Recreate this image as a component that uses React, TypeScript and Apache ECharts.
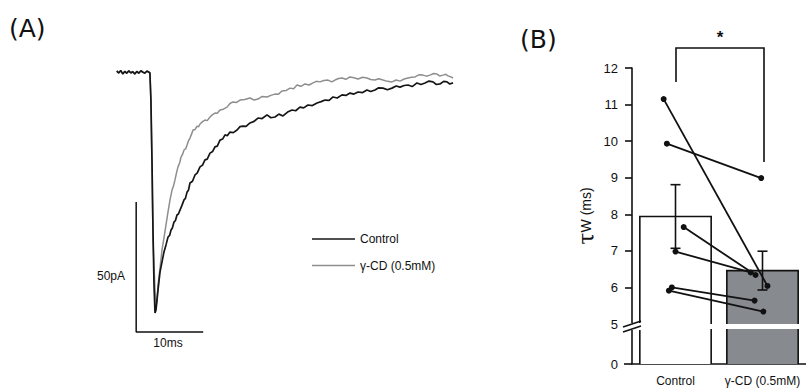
import React, { useEffect, useRef } from "react";
import * as echarts from "echarts";

// ---------- Panel A: EPSC traces (time in ms, current in pA) ----------
const controlTrace: number[][] = [
  [2.5, 0.4], [2.8, -0.4], [3.1, 0.6], [3.4, -0.8], [3.7, 0.2], [4.0, -0.5], [4.3, 0.5], [4.6, -0.4], [4.9, 0.1], [5.2, -0.8],
  [5.5, 0.2], [5.8, -0.5], [6.1, 0.5], [6.4, -0.1], [6.7, -0.5], [7.0, 0.4], [7.3, -0.1], [7.45, -0.4],
  [7.6, -10.8], [7.76, -33.8], [7.91, -60.8], [8.06, -81.9], [8.21, -92.7], [8.36, -91.5], [8.66, -83.8], [8.96, -76.9],
  [9.25, -73.1], [9.55, -69.2], [9.85, -66.5], [10.15, -63.5], [10.4, -62.8], [10.6, -60.8], [10.8, -60.0], [11.04, -57.7],
  [11.25, -57.2], [11.49, -55.0], [11.7, -54.6], [11.94, -53.1], [12.2, -51.5], [12.54, -49.2], [12.75, -48.6], [12.99, -46.2],
  [13.2, -45.5], [13.43, -42.7], [13.8, -42.0], [14.18, -39.6], [14.5, -38.9], [14.93, -36.5], [15.3, -35.8], [15.67, -33.8],
  [16.0, -33.5], [16.42, -31.2], [16.8, -30.6], [17.16, -28.8], [17.5, -28.5], [17.91, -26.2], [18.3, -25.8], [18.66, -24.2],
  [19.0, -24.5], [19.4, -23.1], [19.9, -23.3], [20.45, -22.3], [20.9, -21.0], [21.34, -20.8], [21.8, -20.9], [22.39, -19.6],
  [23.0, -19.0], [23.58, -17.7], [24.2, -17.9], [24.93, -16.5], [25.5, -17.6], [26.12, -17.3], [26.7, -16.2], [27.31, -16.9],
  [28.0, -15.4], [28.66, -14.6], [29.2, -14.9], [29.85, -13.5], [30.4, -13.8], [31.04, -12.7], [31.7, -12.9], [32.39, -11.9],
  [33.0, -11.4], [33.58, -10.8], [34.2, -10.9], [34.78, -9.6], [35.4, -10.0], [36.12, -8.8], [36.7, -9.0], [37.31, -8.1],
  [37.9, -8.5], [38.51, -7.7], [39.2, -7.9], [39.85, -6.9], [40.4, -7.5], [41.04, -6.9], [41.6, -6.1], [42.24, -6.2],
  [42.9, -6.8], [43.58, -6.2], [44.2, -5.4], [44.78, -5.8], [45.4, -5.2], [45.97, -5.0], [46.6, -5.6], [47.31, -4.2],
  [47.9, -4.8], [48.51, -4.2], [49.1, -3.5], [49.7, -3.8], [50.2, -4.8], [50.75, -4.6], [51.3, -3.6], [51.79, -3.8],
  [52.2, -4.6], [52.69, -4.2],
];

const cdTrace: number[][] = [
  [2.5, 0.2], [2.8, -0.2], [3.1, 0.4], [3.4, -0.6], [3.7, 0.3], [4.0, -0.3], [4.3, 0.4], [4.6, -0.2], [4.9, 0.2], [5.2, -0.6],
  [5.5, 0.3], [5.8, -0.3], [6.1, 0.4], [6.4, 0.0], [6.7, -0.3], [7.0, 0.3], [7.3, 0.0], [7.45, -0.3],
  [7.6, -10.8], [7.76, -37.7], [7.91, -64.6], [8.21, -83.8], [8.36, -90.0], [8.51, -87.7], [8.66, -81.9], [8.96, -75.4],
  [9.25, -68.5], [9.55, -63.8], [9.85, -58.8], [10.15, -53.8], [10.45, -49.2], [10.75, -45.4], [11.0, -43.6], [11.19, -41.5],
  [11.4, -39.0], [11.64, -36.5], [11.9, -34.9], [12.09, -32.7], [12.3, -31.8], [12.54, -30.0], [12.8, -29.5], [12.99, -28.1],
  [13.2, -26.5], [13.43, -25.4], [13.65, -24.0], [13.88, -22.3], [14.2, -22.1], [14.48, -20.8], [14.7, -21.1], [14.93, -20.0],
  [15.3, -19.1], [15.67, -18.5], [16.0, -18.7], [16.42, -17.3], [16.8, -16.4], [17.16, -15.8], [17.5, -15.9], [17.91, -14.6],
  [18.4, -14.3], [18.96, -13.5], [19.4, -12.1], [19.85, -11.5], [20.4, -11.7], [20.9, -10.8], [21.6, -10.6], [22.39, -10.0],
  [23.0, -10.8], [23.58, -10.4], [24.2, -9.4], [24.93, -9.6], [25.5, -9.0], [26.12, -8.5], [26.6, -8.6], [27.16, -7.3],
  [27.8, -7.1], [28.36, -6.2], [28.9, -6.4], [29.4, -5.0], [30.0, -5.5], [30.6, -4.6], [31.2, -5.0], [31.79, -4.2],
  [32.3, -3.6], [32.84, -3.8], [33.4, -3.3], [34.03, -3.1], [34.6, -3.8], [35.07, -3.1], [35.6, -2.5], [36.12, -2.3],
  [36.7, -2.8], [37.31, -1.9], [37.9, -2.2], [38.51, -2.7], [39.2, -2.0], [39.85, -2.3], [40.4, -2.9], [41.04, -3.1],
  [41.6, -2.6], [42.24, -3.1], [42.9, -3.6], [43.58, -3.8], [44.2, -3.1], [44.78, -3.5], [45.4, -2.7], [45.97, -2.3],
  [46.5, -2.0], [47.01, -1.9], [47.6, -1.1], [48.21, -1.2], [48.7, -1.6], [49.25, -1.2], [49.8, -0.6], [50.3, -0.8],
  [50.7, -1.5], [51.19, -1.2], [51.6, -0.9], [51.94, -1.5], [52.3, -1.8], [52.69, -2.3],
];

// scale bar: 50 pA vertical, 10 ms horizontal
const scaleBar: number[][] = [[5.4, -50], [5.4, -100], [15.4, -100]];
const traceNames = ["Control", "γ-CD (0.5mM)"];

// ---------- Panel B: tau weighted ----------
const categories = ["Control", "γ-CD (0.5mM)"];
const barMeans = [7.94, 6.46];
const barSem = [0.87, 0.53];
const barColors = ["#ffffff", "#878a8f"];
const controlTau = [11.15, 9.93, 7.65, 6.98, 6.0, 5.91];
const cdTau = [6.04, 8.99, 6.34, 6.41, 5.64, 5.34];
const controlJitter = [-0.136, -0.099, 0.094, 0.0, -0.042, -0.076];
const cdJitter = [0.057, -0.015, -0.08, -0.136, -0.091, 0.01];
const upperTicks = [6, 7, 8, 9, 10, 11, 12];
const upperLabels = [5, 6, 7, 8, 9, 10, 11, 12];
const lowerTicks = [0];

const FONT = "Liberation Sans, Arial, sans-serif";
const INK = "#111111";

export default function App() {
  const ref = useRef<HTMLDivElement>(null);

  useEffect(() => {
    if (!ref.current) return;
    const chart = echarts.init(ref.current, null, { renderer: "svg" });

    const barTop = (params: any, api: any) => {
      const i = api.value(0);
      const v = api.value(1);
      const base = api.coord([i, 5]);
      const top = api.coord([i, v]);
      const w = api.size([1, 0])[0] * 0.82;
      const x0 = base[0] - w / 2;
      const x1 = base[0] + w / 2;
      return {
        type: "group",
        children: [
          { type: "rect", shape: { x: x0, y: top[1], width: w, height: base[1] - top[1] }, style: { fill: barColors[i] } },
          {
            type: "polyline",
            shape: { points: [[x0, base[1]], [x0, top[1]], [x1, top[1]], [x1, base[1]]] },
            style: { stroke: INK, lineWidth: 1.6, fill: "none" },
          },
        ],
      };
    };

    const barBottom = (params: any, api: any) => {
      const i = api.value(0);
      const v = api.value(1);
      const base = api.coord([i, 0]);
      const top = api.coord([i, v]);
      const w = api.size([1, 0])[0] * 0.82;
      const x0 = base[0] - w / 2;
      const x1 = base[0] + w / 2;
      return {
        type: "group",
        children: [
          { type: "rect", shape: { x: x0, y: top[1], width: w, height: base[1] - top[1] }, style: { fill: barColors[i] } },
          { type: "line", shape: { x1: x0, y1: base[1], x2: x0, y2: top[1] }, style: { stroke: INK, lineWidth: 1.6 } },
          { type: "line", shape: { x1: x1, y1: base[1], x2: x1, y2: top[1] }, style: { stroke: INK, lineWidth: 1.6 } },
        ],
      };
    };

    const errRender = (params: any, api: any) => {
      const i = api.value(0);
      const lo = api.coord([i, api.value(1)]);
      const hi = api.coord([i, api.value(2)]);
      const c = 5;
      const st = { stroke: INK, lineWidth: 1.6 };
      return {
        type: "group",
        children: [
          { type: "line", shape: { x1: lo[0], y1: lo[1], x2: hi[0], y2: hi[1] }, style: st },
          { type: "line", shape: { x1: lo[0] - c, y1: lo[1], x2: lo[0] + c, y2: lo[1] }, style: st },
          { type: "line", shape: { x1: hi[0] - c, y1: hi[1], x2: hi[0] + c, y2: hi[1] }, style: st },
        ],
      };
    };

    const pairSeries = controlTau.map((c, i) => ({
      type: "line",
      xAxisIndex: 2,
      yAxisIndex: 1,
      data: [
        [controlJitter[i], c],
        [1 + cdJitter[i], cdTau[i]],
      ],
      symbol: "circle",
      symbolSize: 6,
      itemStyle: { color: INK },
      lineStyle: { color: INK, width: 1.8 },
      z: 5,
      silent: true,
    }));

    const option: any = {
      animation: false,
      backgroundColor: "#ffffff",
      textStyle: { fontFamily: FONT },
      legend: {
        data: traceNames.map((n) => ({ name: n, icon: "rect" })),
        orient: "vertical",
        left: 307,
        top: 227,
        itemWidth: 43,
        itemHeight: 1.6,
        itemGap: 12.5,
        textStyle: { fontFamily: FONT, fontSize: 12, color: INK, lineHeight: 14 },
        selectedMode: false,
      },
      grid: [
        { left: 100, top: 46, width: 368.5, height: 312 },
        { left: 632, top: 68, width: 176, height: 256 },
        { left: 632, top: 329, width: 176, height: 35 },
      ],
      xAxis: [
        { type: "value", gridIndex: 0, min: 0, max: 55, show: false },
        { type: "category", gridIndex: 1, data: categories, show: false },
        { type: "value", gridIndex: 1, min: -0.5, max: 1.5, show: false },
        {
          type: "category",
          gridIndex: 2,
          data: categories,
          axisLine: { lineStyle: { color: INK, width: 1.6 } },
          axisTick: { alignWithLabel: true, length: 6, lineStyle: { color: INK, width: 1.6 } },
          axisLabel: { fontFamily: FONT, fontSize: 12, color: INK, margin: 11, interval: 0, hideOverlap: false },
        },
      ],
      yAxis: [
        { type: "value", gridIndex: 0, min: -110, max: 10, show: false },
        {
          type: "value",
          gridIndex: 1,
          min: 5,
          max: 12,
          interval: 1,
          splitLine: { show: false },
          axisLine: { show: true, onZero: false, lineStyle: { color: INK, width: 1.6 } },
          axisTick: { show: true, length: 7, customValues: upperTicks, lineStyle: { color: INK, width: 1.6 } },
          axisLabel: { fontFamily: FONT, fontSize: 13, color: INK, margin: 14, customValues: upperLabels },
        },
        {
          type: "value",
          gridIndex: 2,
          min: 0,
          max: 5,
          interval: 5,
          splitLine: { show: false },
          axisLine: { show: true, onZero: false, lineStyle: { color: INK, width: 1.6 } },
          axisTick: { show: true, length: 8, customValues: lowerTicks, lineStyle: { color: INK, width: 1.6 } },
          axisLabel: { fontFamily: FONT, fontSize: 13, color: INK, margin: 14, customValues: lowerTicks },
        },
      ],
      series: [
        {
          name: traceNames[1],
          type: "line",
          xAxisIndex: 0,
          yAxisIndex: 0,
          data: cdTrace,
          symbol: "none",
          itemStyle: { color: "#8e8e8e" },
          lineStyle: { color: "#8e8e8e", width: 1.5 },
          z: 2,
        },
        {
          name: traceNames[0],
          type: "line",
          xAxisIndex: 0,
          yAxisIndex: 0,
          data: controlTrace,
          symbol: "none",
          itemStyle: { color: "#161616" },
          lineStyle: { color: "#161616", width: 1.7 },
          z: 3,
        },
        {
          name: "scale",
          type: "line",
          xAxisIndex: 0,
          yAxisIndex: 0,
          data: scaleBar,
          symbol: "none",
          lineStyle: { color: INK, width: 1.5 },
        },
        {
          type: "custom",
          xAxisIndex: 1,
          yAxisIndex: 1,
          renderItem: barTop,
          data: barMeans.map((m, i) => [i, m]),
          z: 1,
        },
        {
          type: "custom",
          xAxisIndex: 3,
          yAxisIndex: 2,
          renderItem: barBottom,
          data: barMeans.map((m, i) => [i, Math.min(m, 5)]),
          z: 1,
        },
        {
          type: "custom",
          xAxisIndex: 1,
          yAxisIndex: 1,
          renderItem: errRender,
          data: barMeans.map((m, i) => [i, m - barSem[i], m + barSem[i]]),
          z: 4,
        },
        ...pairSeries,
      ],
      graphic: [
        { type: "text", x: 9, y: 16, style: { text: "(A)", fontFamily: "DejaVu Sans", fontSize: 25, fill: "#111" } },
        { type: "text", x: 520, y: 27, style: { text: "(B)", fontFamily: "DejaVu Sans", fontSize: 25, fill: "#111" } },
        { type: "text", x: 125, y: 276, style: { text: "50pA", fontFamily: FONT, fontSize: 12, fill: INK, align: "right", verticalAlign: "middle" } },
        { type: "text", x: 168, y: 343, style: { text: "10ms", fontFamily: FONT, fontSize: 12, fill: INK, align: "center", verticalAlign: "middle" } },
        {
          type: "polyline",
          shape: { points: [[676, 82], [676, 48], [764, 48], [764, 162]] },
          style: { stroke: INK, lineWidth: 1.6, fill: "none" },
        },
        { type: "text", x: 720, y: 37, style: { text: "*", fontFamily: FONT, fontSize: 17, fontWeight: "bold", fill: INK, align: "center", verticalAlign: "middle" } },
        {
          type: "text",
          x: 586,
          y: 216,
          rotation: Math.PI / 2,
          style: {
            text: "{t|τ}{w|W (ms)}",
            align: "center",
            verticalAlign: "middle",
            rich: {
              t: { fontFamily: "DejaVu Serif", fontSize: 22, fill: INK },
              w: { fontFamily: FONT, fontSize: 14, fill: INK },
            },
          },
        },
        { type: "rect", shape: { x: 624, y: 323, width: 20, height: 7 }, style: { fill: "#fff" }, z: 50 },
        { type: "line", shape: { x1: 623, y1: 327, x2: 641, y2: 321 }, style: { stroke: INK, lineWidth: 1.5 }, z: 51 },
        { type: "line", shape: { x1: 623, y1: 332, x2: 641, y2: 326 }, style: { stroke: INK, lineWidth: 1.5 }, z: 51 },
      ],
    };

    chart.setOption(option);
    return () => chart.dispose();
  }, []);

  return <div ref={ref} style={{ position: "fixed", left: 0, top: 0, width: 806, height: 392 }} />;
}
